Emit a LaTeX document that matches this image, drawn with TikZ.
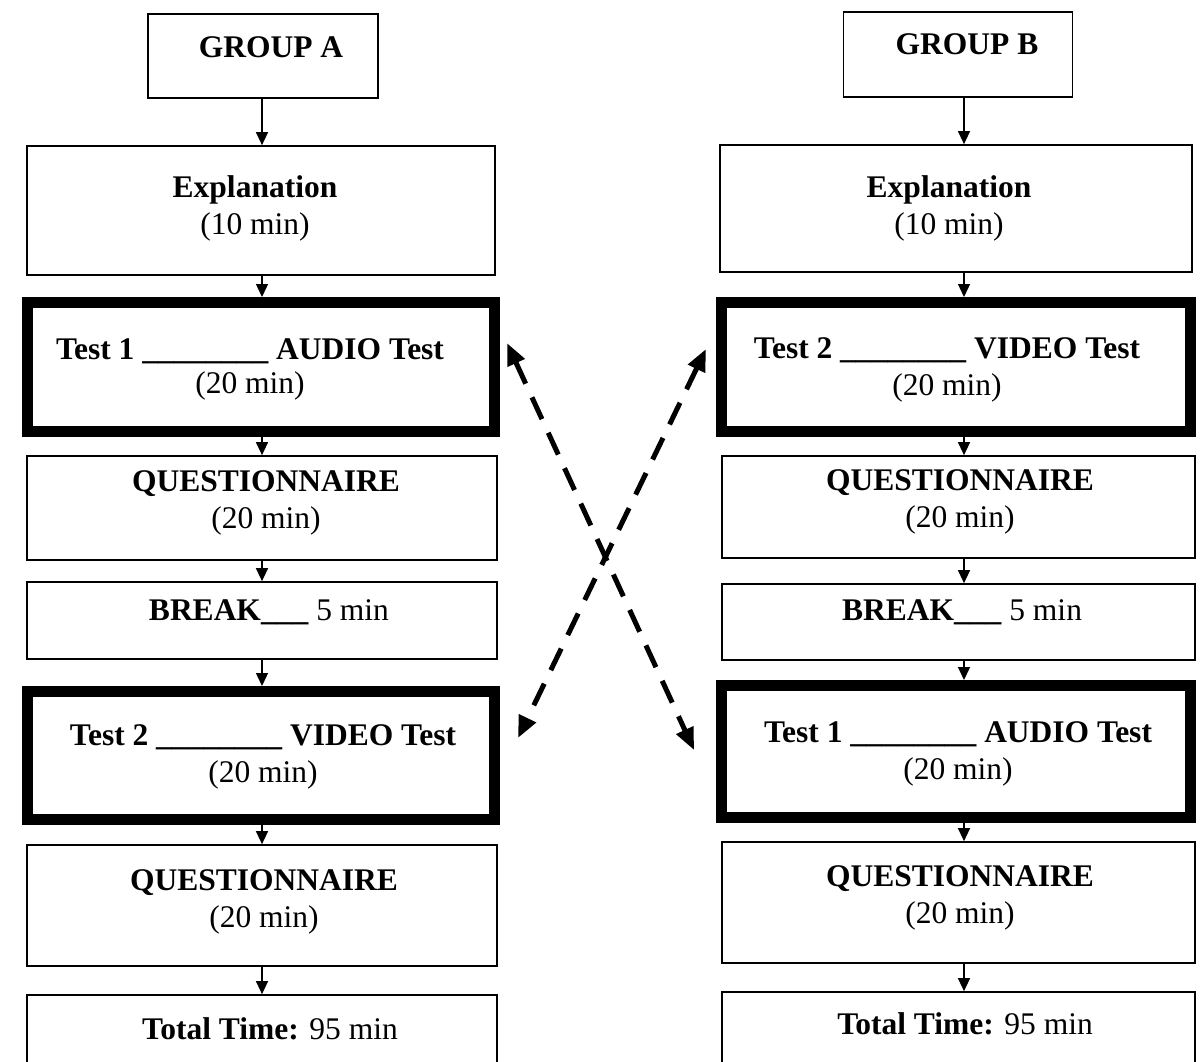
\documentclass[tikz,border=0pt]{standalone}
\usepackage{fontspec}
\setmainfont{Liberation Serif}
\usetikzlibrary{arrows.meta}
\begin{document}
\begin{tikzpicture}[x=1pt,y=-1pt,
  frame/.style={draw, line width=1.7pt, inner sep=0pt},
  thickframe/.style={frame, line width=11pt},
  txt/.style={inner sep=0pt, align=center, font=\fontsize{31.5}{37}\selectfont},
  flow/.style={-{Triangle[length=13pt,width=12pt]}, line width=1.3pt},
  swaparrow/.style={{Triangle[length=22pt,width=18pt]}-{Triangle[length=22pt,width=18pt]}, line width=5pt, dash pattern=on 24pt off 15pt}
]
\useasboundingbox (0,0) rectangle (1204,1061);
\clip (0,0) rectangle (1204,1061);

% column axes
\coordinate (colA) at (262,0);
\coordinate (colB) at (964,0);

% ---------- Group A : boxes ----------
\node[frame, minimum width=230pt, minimum height=84pt] (gA) at (263,56) {};
\node[frame, minimum width=468pt, minimum height=129pt] (eA) at (261,210.5) {};
\node[thickframe, minimum width=467pt, minimum height=129pt] (t1A) at (261,367) {};
\node[frame, minimum width=470pt, minimum height=104pt] (qA) at (262,508) {};
\node[frame, minimum width=470pt, minimum height=77pt] (bA) at (262,620.5) {};
\node[thickframe, minimum width=467pt, minimum height=128pt] (t2A) at (261,755.5) {};
\node[frame, minimum width=470pt, minimum height=121pt] (q2A) at (262,905.5) {};
\node[frame, minimum width=470pt, minimum height=80pt] (totA) at (262,1035) {};

% ---------- Group A : texts ----------
\node[txt] (gAt) at (271,47) {\textbf{GROUP A}};
\node[txt] (eAt) at (255,208.5) {\textbf{Explanation}\\(10 min)};
\node[txt] (t1At) at (250,369) {\textbf{Test 1 \_\_\_\_\_\_\_\_ AUDIO Test}\\[-3pt](20 min)};
\node[txt] (qAt) at (266,502.5) {\textbf{QUESTIONNAIRE}\\(20 min)};
\node[txt] (bAt) at (269,612) {\textbf{BREAK\_\_\_} 5 min};
\node[txt] (t2At) at (263,757) {\textbf{Test 2 \_\_\_\_\_\_\_\_ VIDEO Test}\\(20 min)};
\node[txt] (q2At) at (264,901.5) {\textbf{QUESTIONNAIRE}\\(20 min)};
\node[txt] (totAt) at (270,1029) {\textbf{Total Time:} 95 min};

\draw[flow] (gA.south -| colA) -- (eA.north -| colA);
\draw[flow] (eA.south -| colA) -- (t1A.north -| colA);
\draw[flow] (t1A.south -| colA) -- (qA.north -| colA);
\draw[flow] (qA.south -| colA) -- (bA.north -| colA);
\draw[flow] (bA.south -| colA) -- (t2A.north -| colA);
\draw[flow] (t2A.south -| colA) -- (q2A.north -| colA);
\draw[flow] (q2A.south -| colA) -- (totA.north -| colA);

% ---------- Group B : boxes ----------
\node[frame, minimum width=229pt, minimum height=85pt] (gB) at (958,54.5) {};
\node[frame, minimum width=472pt, minimum height=127pt] (eB) at (956,208.5) {};
\node[thickframe, minimum width=469pt, minimum height=129pt] (t2B) at (956,367) {};
\node[frame, minimum width=473pt, minimum height=102pt] (qB) at (958.5,507) {};
\node[frame, minimum width=473pt, minimum height=76pt] (bB) at (958.5,622) {};
\node[thickframe, minimum width=469pt, minimum height=132pt] (t1B) at (956,751.5) {};
\node[frame, minimum width=473pt, minimum height=121pt] (q2B) at (958.5,902.5) {};
\node[frame, minimum width=473pt, minimum height=80pt] (totB) at (958.5,1032) {};

% ---------- Group B : texts ----------
\node[txt] (gBt) at (967,44) {\textbf{GROUP B}};
\node[txt] (eBt) at (949,208) {\textbf{Explanation}\\(10 min)};
\node[txt] (t2Bt) at (947,370) {\textbf{Test 2 \_\_\_\_\_\_\_\_ VIDEO Test}\\(20 min)};
\node[txt] (qBt) at (960,501.5) {\textbf{QUESTIONNAIRE}\\(20 min)};
\node[txt] (bBt) at (962,612) {\textbf{BREAK\_\_\_} 5 min};
\node[txt] (t1Bt) at (958,753.5) {\textbf{Test 1 \_\_\_\_\_\_\_\_ AUDIO Test}\\(20 min)};
\node[txt] (q2Bt) at (960,898) {\textbf{QUESTIONNAIRE}\\(20 min)};
\node[txt] (totBt) at (965,1024) {\textbf{Total Time:} 95 min};

\draw[flow] (gB.south -| colB) -- (eB.north -| colB);
\draw[flow] (eB.south -| colB) -- (t2B.north -| colB);
\draw[flow] (t2B.south -| colB) -- (qB.north -| colB);
\draw[flow] (qB.south -| colB) -- (bB.north -| colB);
\draw[flow] (bB.south -| colB) -- (t1B.north -| colB);
\draw[flow] (t1B.south -| colB) -- (q2B.north -| colB);
\draw[flow] (q2B.south -| colB) -- (totB.north -| colB);

% ---------- crossing dashed arrows ----------
\coordinate (audA) at (507,343);
\coordinate (audB) at (694,750);
\coordinate (vidB) at (706,349);
\coordinate (vidA) at (518,738);
\draw[swaparrow] (audA) -- (audB);
\draw[swaparrow] (vidB) -- (vidA);
\end{tikzpicture}
\end{document}
